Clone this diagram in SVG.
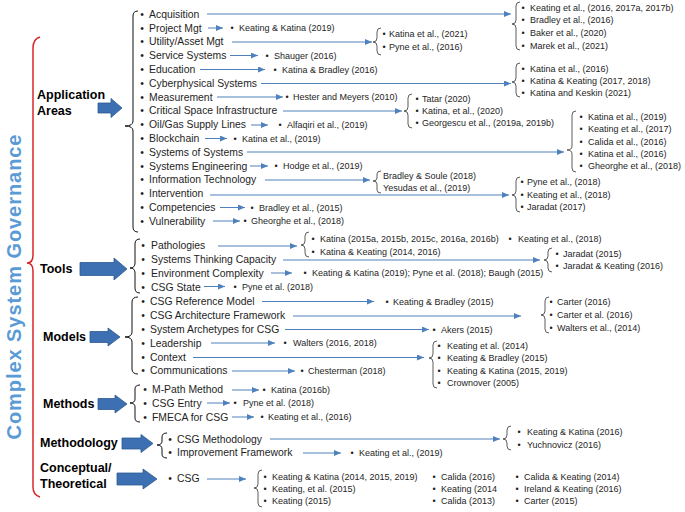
<svg xmlns="http://www.w3.org/2000/svg" width="685" height="512" viewBox="0 0 685 512">
<defs>
<style>
text{font-family:"Liberation Sans",Arial,sans-serif;fill:#1e1e1e}
.t{font-size:10.4px}
.c{font-size:9px}
.g{font-size:12.5px;font-weight:bold;fill:#000}
.ttl{font-size:20px;font-weight:bold;fill:#5b9bd5}
.ln line{stroke:#4f81bd;stroke-width:1;fill:none;marker-end:url(#ah)}
.br{stroke:#333;stroke-width:0.8;fill:none}
.bb{stroke:#111;stroke-width:1;fill:none}
.ba{fill:#3d70b2;stroke:#2c5a8f;stroke-width:0.8}
</style>
<marker id="ah" markerUnits="userSpaceOnUse" markerWidth="7" markerHeight="6" refX="7" refY="3" orient="auto"><path d="M0,0 L7,3 L0,6 z" fill="#4f81bd"/></marker>
</defs>
<rect width="685" height="512" fill="#fff"/>

<g id="title">
<path d="M40,37 Q33,39 33,48 L33,255 Q33,263 27,263 Q33,263 33,271 L33,487 Q33,495 40,497" stroke="#d9262a" stroke-width="1.5" fill="none"/>
<text class="ttl" transform="translate(21,287) rotate(-90)" text-anchor="middle" textLength="305" lengthAdjust="spacing">Complex System Governance</text>
</g>

<g id="cat-application">
<text class="g" x="37" y="99">Application</text>
<text class="g" x="37" y="115">Areas</text>
<polygon class="ba" points="98,103 111,103 111,98.5 122,108 111,117.5 111,113 98,113"/>
<path class="bb" d="M138,11 Q133,11 133,16 L133,121 Q133,126 125,126 Q133,126 133,131 L133,227 Q133,232 138,232"/>
</g>
<g id="cat-tools">
<text class="g" x="40" y="273">Tools</text>
<polygon class="ba" points="80,262.5 114,262.5 114,258 127,269 114,280 114,275.5 80,275.5"/>
<path class="bb" d="M140,239 Q135,239 135,244 L135,263 Q135,268 130,268 Q135,268 135,273 L135,288 Q135,293 140,293"/>
</g>
<g id="cat-models">
<text class="g" x="43" y="341">Models</text>
<polygon class="ba" points="90,331.5 108,331.5 108,328 120,337 108,346 108,342.5 90,342.5"/>
<path class="bb" d="M138,297 Q132,297 132,302 L132,332 Q132,337 125,337 Q132,337 132,342 L132,369 Q132,374 138,374"/>
</g>
<g id="cat-methods">
<text class="g" x="43" y="408">Methods</text>
<polygon class="ba" points="98,398.5 115,398.5 115,395 127,404 115,413 115,409.5 98,409.5"/>
<path class="bb" d="M140,385 Q135,385 135,389 L135,399 Q135,403 130,403 Q135,403 135,407 L135,418 Q135,422 140,422"/>
</g>
<g id="cat-methodology">
<text class="g" x="40" y="447">Methodology</text>
<polygon class="ba" points="122,438 141,438 141,434.5 153,443.5 141,452.5 141,449 122,449"/>
<path class="bb" d="M167,433 Q162,433 162,437 L162,441 Q162,445 157,445 Q162,445 162,449 L162,454 Q162,458 167,458"/>
</g>
<g id="cat-conceptual">
<text class="g" x="40" y="472">Conceptual/</text>
<text class="g" x="40" y="488">Theoretical</text>
<polygon class="ba" points="117,473 143,473 143,469 157,479 143,489 143,485 117,485"/>
</g>

<g id="connectors" class="ln">
<line x1="207" y1="14" x2="511" y2="14"/>
<line x1="208" y1="28" x2="223" y2="28"/>
<line x1="232" y1="42" x2="372" y2="42"/>
<line x1="230" y1="55.5" x2="258" y2="55.5"/>
<line x1="200" y1="69.5" x2="265" y2="69.5"/>
<line x1="261" y1="83.5" x2="511" y2="83.5"/>
<line x1="217" y1="97" x2="283" y2="97"/>
<line x1="283" y1="111" x2="402" y2="111"/>
<line x1="251" y1="125" x2="268" y2="125"/>
<line x1="205" y1="138.5" x2="227" y2="138.5"/>
<line x1="247" y1="152" x2="564" y2="152"/>
<line x1="250" y1="166" x2="268" y2="166"/>
<line x1="265" y1="180" x2="370" y2="180"/>
<line x1="210" y1="195" x2="509" y2="195"/>
<line x1="220" y1="207.5" x2="245" y2="207.5"/>
<line x1="213" y1="221" x2="240" y2="221"/>
<line x1="218" y1="246" x2="297" y2="246"/>
<line x1="283" y1="260" x2="540" y2="260"/>
<line x1="271" y1="273" x2="292" y2="273"/>
<line x1="204" y1="286.5" x2="225" y2="286.5"/>
<line x1="262" y1="301.5" x2="374" y2="301.5"/>
<line x1="293" y1="316" x2="521" y2="316"/>
<line x1="285" y1="329.5" x2="429" y2="329.5"/>
<line x1="211" y1="343" x2="275" y2="343"/>
<line x1="193" y1="357.5" x2="424" y2="357.5"/>
<line x1="232" y1="371" x2="295" y2="371"/>
<line x1="232" y1="390" x2="259" y2="390"/>
<line x1="207" y1="403" x2="230" y2="403"/>
<line x1="232" y1="417" x2="254" y2="417"/>
<line x1="270" y1="439" x2="500" y2="439"/>
<line x1="303" y1="453" x2="341" y2="453"/>
<line x1="207" y1="479" x2="246" y2="479"/>
</g>

<g id="items-application" class="t">
<text y="17.7"><tspan x="140.2">•</tspan><tspan x="149">Acquisition</tspan></text>
<text y="31.5"><tspan x="140.2">•</tspan><tspan x="149">Project Mgt</tspan></text>
<text y="45.3"><tspan x="140.2">•</tspan><tspan x="149">Utility/Asset Mgt</tspan></text>
<text y="59.1"><tspan x="140.2">•</tspan><tspan x="149">Service Systems</tspan></text>
<text y="72.9"><tspan x="140.2">•</tspan><tspan x="149">Education</tspan></text>
<text y="86.7"><tspan x="140.2">•</tspan><tspan x="149">Cyberphysical Systems</tspan></text>
<text y="100.5"><tspan x="140.2">•</tspan><tspan x="149">Measurement</tspan></text>
<text y="114.3"><tspan x="140.2">•</tspan><tspan x="149">Critical Space Infrastructure</tspan></text>
<text y="128.1"><tspan x="140.2">•</tspan><tspan x="149">Oil/Gas Supply Lines</tspan></text>
<text y="141.9"><tspan x="140.2">•</tspan><tspan x="149">Blockchain</tspan></text>
<text y="155.7"><tspan x="140.2">•</tspan><tspan x="149">Systems of Systems</tspan></text>
<text y="169.5"><tspan x="140.2">•</tspan><tspan x="149">Systems Engineering</tspan></text>
<text y="183.3"><tspan x="140.2">•</tspan><tspan x="149">Information Technology</tspan></text>
<text y="197.1"><tspan x="140.2">•</tspan><tspan x="149">Intervention</tspan></text>
<text y="210.9"><tspan x="140.2">•</tspan><tspan x="149">Competencies</tspan></text>
<text y="224.7"><tspan x="140.2">•</tspan><tspan x="149">Vulnerability</tspan></text>
</g>
<g id="items-tools" class="t">
<text y="249.2"><tspan x="141.2">•</tspan><tspan x="151">Pathologies</tspan></text>
<text y="263.2"><tspan x="141.2">•</tspan><tspan x="151">Systems Thinking Capacity</tspan></text>
<text y="276.7"><tspan x="141.2">•</tspan><tspan x="151">Environment Complexity</tspan></text>
<text y="290.7"><tspan x="141.2">•</tspan><tspan x="151">CSG State</tspan></text>
</g>
<g id="items-models" class="t">
<text y="304.7"><tspan x="141.2">•</tspan><tspan x="150">CSG Reference Model</tspan></text>
<text y="318.7"><tspan x="141.2">•</tspan><tspan x="150">CSG Architecture Framework</tspan></text>
<text y="332.7"><tspan x="141.2">•</tspan><tspan x="150">System Archetypes for CSG</tspan></text>
<text y="346.7"><tspan x="141.2">•</tspan><tspan x="150">Leadership</tspan></text>
<text y="360.7"><tspan x="141.2">•</tspan><tspan x="150">Context</tspan></text>
<text y="374.2"><tspan x="141.2">•</tspan><tspan x="150">Communications</tspan></text>
</g>
<g id="items-methods" class="t">
<text y="393.2"><tspan x="143.2">•</tspan><tspan x="152">M-Path Method</tspan></text>
<text y="406.7"><tspan x="143.2">•</tspan><tspan x="152">CSG Entry</tspan></text>
<text y="420.7"><tspan x="143.2">•</tspan><tspan x="152">FMECA for CSG</tspan></text>
</g>
<g id="items-methodology" class="t">
<text y="442.7"><tspan x="168.2">•</tspan><tspan x="177">CSG Methodology</tspan></text>
<text y="456.2"><tspan x="168.2">•</tspan><tspan x="177">Improvement Framework</tspan></text>
</g>
<g id="items-conceptual" class="t">
<text y="482.2"><tspan x="168.2">•</tspan><tspan x="177">CSG</tspan></text>
</g>

<g id="refs-application" class="c">
<path class="br" d="M520,2 Q516,2 516,6 L516,20 Q516,24 512,24 Q516,24 516,28 L516,46 Q516,50 520,50"/>
<text y="10.7"><tspan x="521.4">•</tspan><tspan x="530">Keating et al., (2016, 2017a, 2017b)</tspan></text>
<text y="23.4"><tspan x="521.4">•</tspan><tspan x="530">Bradley et al., (2016)</tspan></text>
<text y="36.1"><tspan x="521.4">•</tspan><tspan x="530">Baker et al., (2020)</tspan></text>
<text y="48.8"><tspan x="521.4">•</tspan><tspan x="530">Marek et al., (2021)</tspan></text>
<text y="31.2"><tspan x="230.4">•</tspan><tspan x="239">Keating &amp; Katina (2019)</tspan></text>
<path class="br" d="M381,28 Q377,28 377,32 L377,38 Q377,42 373,42 Q377,42 377,46 L377,51 Q377,55 381,55"/>
<text y="37.2"><tspan x="382.4">•</tspan><tspan x="389">Katina et al., (2021)</tspan></text>
<text y="50.2"><tspan x="382.4">•</tspan><tspan x="389">Pyne et al., (2016)</tspan></text>
<text y="59.2"><tspan x="265.4">•</tspan><tspan x="274">Shauger (2016)</tspan></text>
<text y="72.7"><tspan x="273.4">•</tspan><tspan x="282">Katina &amp; Bradley (2016)</tspan></text>
<path class="br" d="M520,63 Q516,63 516,67 L516,78 Q516,82 512,82 Q516,82 516,86 L516,93 Q516,97 520,97"/>
<text y="71.7"><tspan x="521.4">•</tspan><tspan x="530">Katina et al., (2016)</tspan></text>
<text y="83.7"><tspan x="521.4">•</tspan><tspan x="530">Katina &amp; Keating (2017, 2018)</tspan></text>
<text y="95.7"><tspan x="521.4">•</tspan><tspan x="530">Katina and Keskin (2021)</tspan></text>
<text y="100.2"><tspan x="285.4">•</tspan><tspan x="293">Hester and Meyers (2010)</tspan></text>
<path class="br" d="M412,94 Q408,94 408,98 L408,107 Q408,111 404,111 Q408,111 408,115 L408,124 Q408,128 412,128"/>
<text y="102.2"><tspan x="415.4">•</tspan><tspan x="422">Tatar (2020)</tspan></text>
<text y="114.2"><tspan x="415.4">•</tspan><tspan x="422">Katina, et al., (2020)</tspan></text>
<text y="126.2"><tspan x="415.4">•</tspan><tspan x="422">Georgescu et al., (2019a, 2019b)</tspan></text>
<text y="128.2"><tspan x="278.4">•</tspan><tspan x="287">Alfaqiri et al., (2019)</tspan></text>
<text y="141.7"><tspan x="233.4">•</tspan><tspan x="242">Katina et al., (2019)</tspan></text>
<path class="br" d="M576,111 Q572,111 572,115 L572,146 Q572,150 567,150 Q572,150 572,154 L572,168 Q572,172 576,172"/>
<text y="120.2"><tspan x="579.4">•</tspan><tspan x="588">Katina et al., (2019)</tspan></text>
<text y="132.2"><tspan x="579.4">•</tspan><tspan x="588">Keating et al., (2017)</tspan></text>
<text y="144.7"><tspan x="579.4">•</tspan><tspan x="588">Calida et al., (2016)</tspan></text>
<text y="157.2"><tspan x="579.4">•</tspan><tspan x="588">Katina et al., (2016)</tspan></text>
<text y="169.2"><tspan x="579.4">•</tspan><tspan x="588">Gheorghe et al., (2018)</tspan></text>
<text y="169.2"><tspan x="274.4">•</tspan><tspan x="283">Hodge et al., (2019)</tspan></text>
<path class="br" d="M381,171 Q377,171 377,174 L377,178 Q377,181 373,181 Q377,181 377,184 L377,190 Q377,193 381,193"/>
<text x="383" y="179.2">Bradley &amp; Soule (2018)</text>
<text x="383" y="190.7">Yesudas et al., (2019)</text>
<path class="br" d="M520,177 Q516,177 516,181 L516,191 Q516,195 512,195 Q516,195 516,199 L516,208 Q516,212 520,212"/>
<text y="185.2"><tspan x="520.4">•</tspan><tspan x="527">Pyne et al., (2018)</tspan></text>
<text y="197.7"><tspan x="520.4">•</tspan><tspan x="527">Keating et al., (2018)</tspan></text>
<text y="210.2"><tspan x="520.4">•</tspan><tspan x="527">Jaradat (2017)</tspan></text>
<text y="210.7"><tspan x="250.4">•</tspan><tspan x="259">Bradley et al., (2015)</tspan></text>
<text y="224.2"><tspan x="243.4">•</tspan><tspan x="251">Gheorghe et al., (2018)</tspan></text>
</g>

<g id="refs-tools" class="c">
<path class="br" d="M309,232 Q305,232 305,236 L305,241 Q305,245 301,245 Q305,245 305,249 L305,253 Q305,257 309,257"/>
<text y="241.7"><tspan x="311.4">•</tspan><tspan x="320">Katina (2015a, 2015b, 2015c, 2016a, 2016b)</tspan></text>
<text y="255.2"><tspan x="311.4">•</tspan><tspan x="320">Katina &amp; Keating (2014, 2016)</tspan></text>
<text y="241.7"><tspan x="508.4">•</tspan><tspan x="518">Keating et al., (2018)</tspan></text>
<path class="br" d="M552,248 Q548,248 548,252 L548,256 Q548,260 544,260 Q548,260 548,264 L548,268 Q548,272 552,272"/>
<text y="257.2"><tspan x="555.4">•</tspan><tspan x="563">Jaradat (2015)</tspan></text>
<text y="269.2"><tspan x="555.4">•</tspan><tspan x="563">Jaradat &amp; Keating (2016)</tspan></text>
<text y="276.2"><tspan x="303.4">•</tspan><tspan x="312">Keating &amp; Katina (2019); Pyne et al. (2018); Baugh (2015)</tspan></text>
<text y="290.2"><tspan x="233.4">•</tspan><tspan x="242">Pyne et al. (2018)</tspan></text>
</g>

<g id="refs-models" class="c">
<text y="304.7"><tspan x="385.4">•</tspan><tspan x="393">Keating &amp; Bradley (2015)</tspan></text>
<path class="br" d="M549,297 Q545,297 545,301 L545,311 Q545,315 541,315 Q545,315 545,319 L545,329 Q545,333 549,333"/>
<text y="305.2"><tspan x="549.4">•</tspan><tspan x="557">Carter (2016)</tspan></text>
<text y="318.2"><tspan x="549.4">•</tspan><tspan x="557">Carter et al. (2016)</tspan></text>
<text y="330.7"><tspan x="549.4">•</tspan><tspan x="557">Walters et al., (2014)</tspan></text>
<text y="332.7"><tspan x="432.4">•</tspan><tspan x="441">Akers (2015)</tspan></text>
<text y="346.2"><tspan x="283.4">•</tspan><tspan x="293">Walters (2016, 2018)</tspan></text>
<path class="br" d="M437,341 Q433,341 433,345 L433,354 Q433,358 429,358 Q433,358 433,362 L433,384 Q433,388 437,388"/>
<text y="349.2"><tspan x="437.4">•</tspan><tspan x="447">Keating et al. (2014)</tspan></text>
<text y="361.2"><tspan x="437.4">•</tspan><tspan x="447">Keating &amp; Bradley (2015)</tspan></text>
<text y="373.7"><tspan x="437.4">•</tspan><tspan x="447">Keating &amp; Katina (2015, 2019)</tspan></text>
<text y="386.2"><tspan x="437.4">•</tspan><tspan x="447">Crownover (2005)</tspan></text>
<text y="374.2"><tspan x="300.4">•</tspan><tspan x="308">Chesterman (2018)</tspan></text>
</g>

<g id="refs-methods" class="c">
<text y="393.2"><tspan x="262.4">•</tspan><tspan x="271">Katina (2016b)</tspan></text>
<text y="406.2"><tspan x="233.4">•</tspan><tspan x="243">Pyne et al. (2018)</tspan></text>
<text y="420.2"><tspan x="260.4">•</tspan><tspan x="268">Keating et al., (2016)</tspan></text>
</g>

<g id="refs-methodology" class="c">
<path class="br" d="M511,426 Q507,426 507,430 L507,435 Q507,439 503,439 Q507,439 507,443 L507,446 Q507,450 511,450"/>
<text y="435.2"><tspan x="517.4">•</tspan><tspan x="527">Keating &amp; Katina (2016)</tspan></text>
<text y="447.7"><tspan x="517.4">•</tspan><tspan x="527">Yuchnovicz (2016)</tspan></text>
<text y="456.2"><tspan x="350.4">•</tspan><tspan x="359">Keating et al., (2019)</tspan></text>
</g>

<g id="refs-conceptual" class="c">
<path class="br" d="M262,470 Q258,470 258,474 L258,484 Q258,488 254,488 Q258,488 258,492 L258,503 Q258,507 262,507"/>
<text y="480.2"><tspan x="263.4">•</tspan><tspan x="272">Keating &amp; Katina (2014, 2015, 2019)</tspan></text>
<text y="492.2"><tspan x="263.4">•</tspan><tspan x="272">Keating, et al. (2015)</tspan></text>
<text y="504.2"><tspan x="263.4">•</tspan><tspan x="272">Keating (2015)</tspan></text>
<text y="480.2"><tspan x="432.4">•</tspan><tspan x="441">Calida (2016)</tspan></text>
<text y="492.2"><tspan x="432.4">•</tspan><tspan x="441">Keating (2014</tspan></text>
<text y="504.2"><tspan x="432.4">•</tspan><tspan x="441">Calida (2013)</tspan></text>
<text y="480.2"><tspan x="515.4">•</tspan><tspan x="524">Calida &amp; Keating (2014)</tspan></text>
<text y="492.2"><tspan x="515.4">•</tspan><tspan x="524">Ireland &amp; Keating (2016)</tspan></text>
<text y="504.2"><tspan x="515.4">•</tspan><tspan x="524">Carter (2015)</tspan></text>
</g>
</svg>
